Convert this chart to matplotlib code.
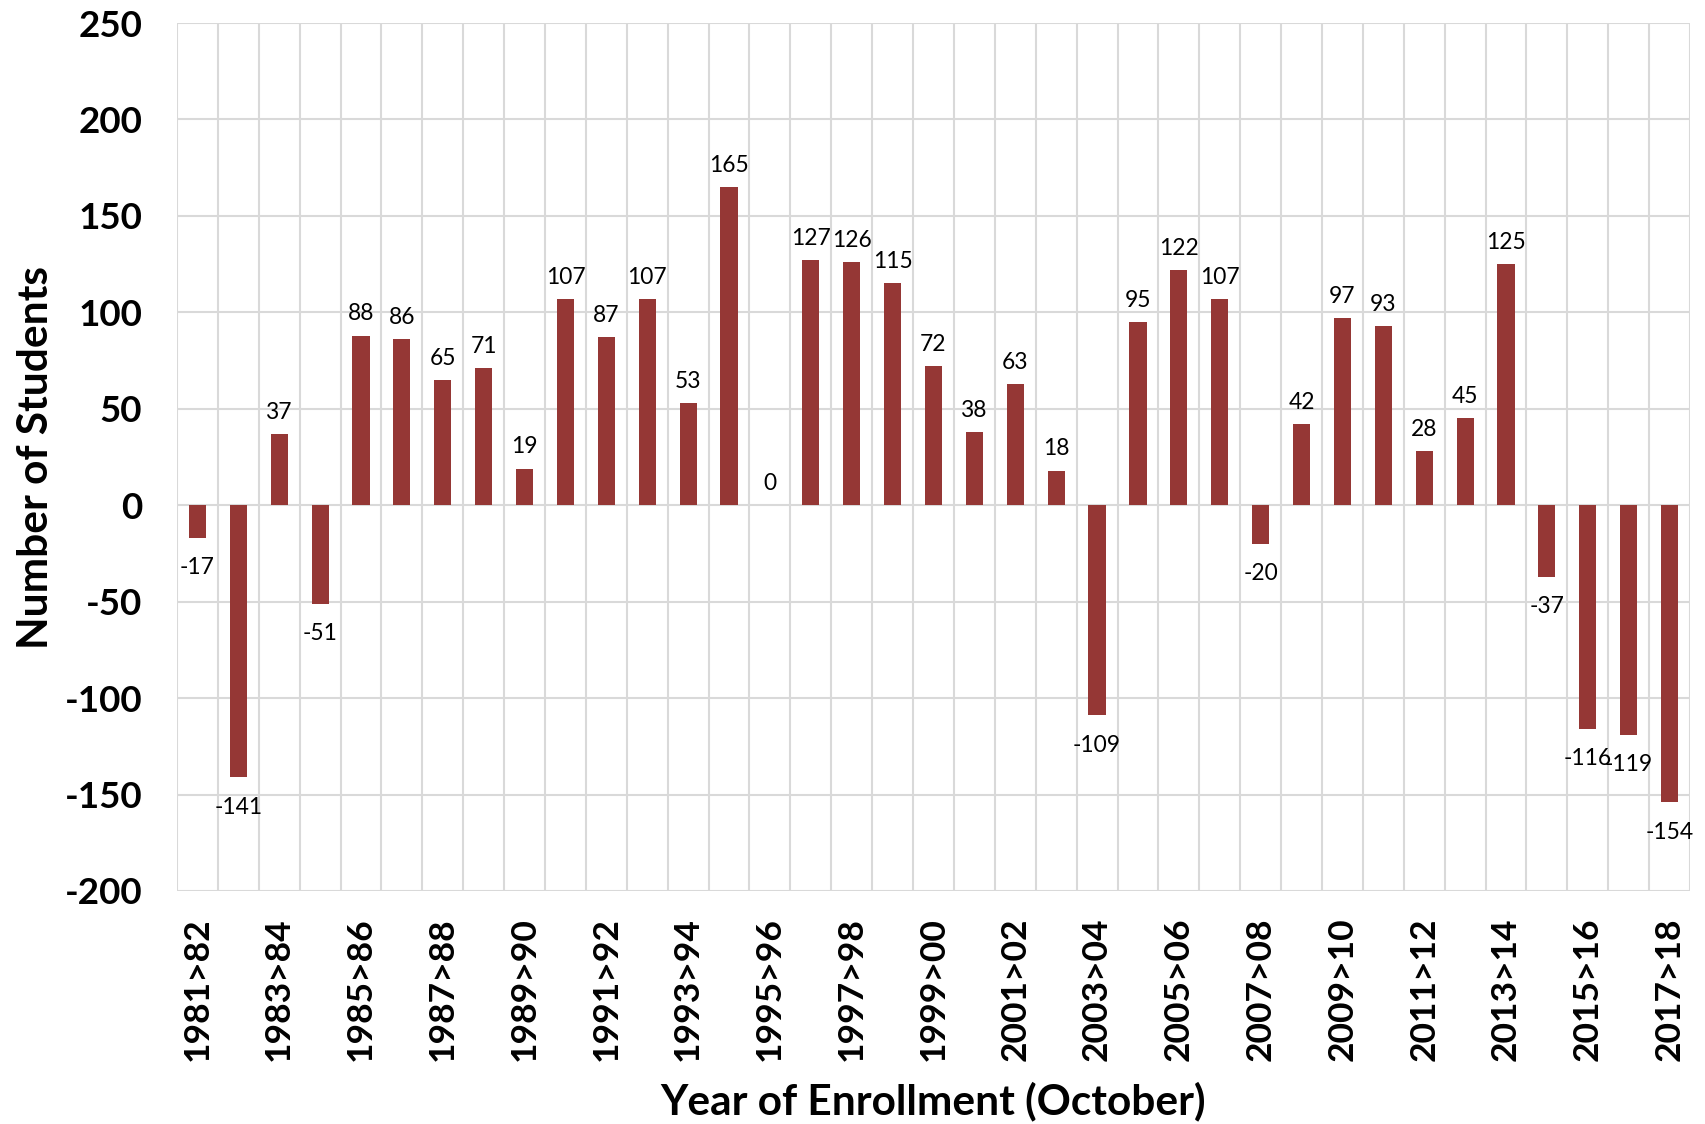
import matplotlib
matplotlib.use("Agg")
import matplotlib.pyplot as plt
import numpy as np

categories = ["1981>82", "1982>83", "1983>84", "1984>85", "1985>86", "1986>87",
              "1987>88", "1988>89", "1989>90", "1990>91", "1991>92", "1992>93",
              "1993>94", "1994>95", "1995>96", "1996>97", "1997>98", "1998>99",
              "1999>00", "2000>01", "2001>02", "2002>03", "2003>04", "2004>05",
              "2005>06", "2006>07", "2007>08", "2008>09", "2009>10", "2010>11",
              "2011>12", "2012>13", "2013>14", "2014>15", "2015>16", "2016>17",
              "2017>18"]
values = [-17, -141, 37, -51, 88, 86, 65, 71, 19, 107, 87, 107, 53, 165, 0,
          127, 126, 115, 72, 38, 63, 18, -109, 95, 122, 107, -20, 42, 97, 93,
          28, 45, 125, -37, -116, -119, -154]
yticks = [-200, -150, -100, -50, 0, 50, 100, 150, 200, 250]

FONT = ["Lato", "DejaVu Sans"]
plt.rcParams['font.family'] = FONT

fig = plt.figure(figsize=(17.05, 11.24), dpi=100)
ax = fig.add_axes([0.1038, 0.2073, 0.9912 - 0.1038, 0.9795 - 0.2073])

x = np.arange(len(categories))
color = "#953735"
ax.bar(x, values, width=0.42, color=color, zorder=3)

ax.set_xlim(-0.5, len(categories) - 0.5)
ax.set_ylim(-200, 250)

grid_c = "#d9d9d9"
for yv in yticks:
    ax.axhline(yv, color=grid_c, lw=1.5, zorder=1)
for b in np.arange(-0.5, len(categories), 1.0):
    ax.axvline(b, color=grid_c, lw=1.5, zorder=1)
for s in ax.spines.values():
    s.set_visible(False)

ax.set_yticks(yticks)
ax.set_yticklabels([str(v) for v in yticks], fontsize=26.5, fontweight="bold")
ax.tick_params(axis="y", length=0, pad=25)
ax.set_xticks(x[::2])
ax.set_xticklabels(categories[::2], rotation=90, fontsize=25.5, fontweight="bold",
                   va="top", ha="center")
ax.tick_params(axis="x", length=0, pad=19)

for xi, v in zip(x, values):
    if v >= 0:
        ax.annotate(str(v), (xi, v), xytext=(0, 8), textcoords="offset points",
                    ha="center", va="bottom", fontsize=16.4, color="black", zorder=4)
    else:
        ax.annotate(str(v), (xi, v), xytext=(0, -14), textcoords="offset points",
                    ha="center", va="top", fontsize=16.4, color="black", zorder=4)

ax.set_ylabel("Number of Students", fontsize=30.5, fontweight="bold")
ax.yaxis.set_label_coords(-0.0935, 0.5)
ax.yaxis.label.set_va("center")
ax.set_xlabel("Year of Enrollment (October)", fontsize=30.5, fontweight="bold")
ax.xaxis.set_label_coords(0.5, -0.242)
ax.xaxis.label.set_va("center")

fig.savefig("out.png", dpi=100, facecolor="white")
